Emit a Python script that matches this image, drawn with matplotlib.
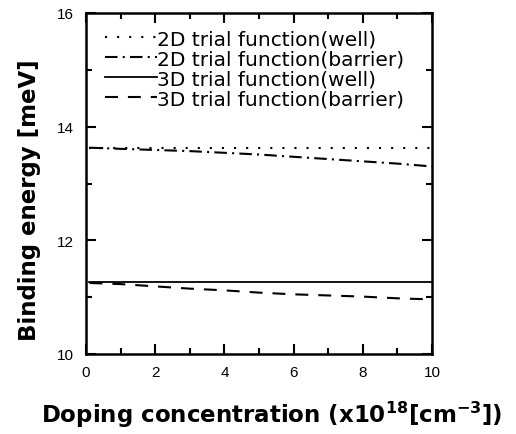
import matplotlib
matplotlib.use("Agg")
import matplotlib.pyplot as plt
from matplotlib.ticker import MultipleLocator

plt.rcParams["font.family"] = ["DejaVu Sans"]
plt.rcParams["mathtext.default"] = "regular"

# doping concentration (x10^18 cm^-3)
doping = [0.1, 1, 2, 3, 4, 5, 6, 7, 8, 9, 10]

# binding energies in meV
well_2d = [13.63, 13.63, 13.63, 13.63, 13.63, 13.63, 13.63, 13.63, 13.63, 13.63, 13.63]
barrier_2d = [13.63, 13.61, 13.59, 13.57, 13.54, 13.51, 13.47, 13.43, 13.39, 13.35, 13.30]
well_3d = [11.26, 11.26, 11.26, 11.26, 11.26, 11.26, 11.26, 11.26, 11.26, 11.26, 11.26]
barrier_3d = [11.25, 11.23, 11.19, 11.15, 11.12, 11.08, 11.05, 11.03, 11.01, 10.98, 10.96]

labels = ["2D trial function(well)", "2D trial function(barrier)",
          "3D trial function(well)", "3D trial function(barrier)"]


def build_plot():
    fig = plt.figure(figsize=(5.16, 4.35), dpi=100)
    ax = fig.add_axes([86 / 516, 80 / 435, 346 / 516, 341 / 435])

    ax.plot(doping, well_2d, color="black", lw=1.5, linestyle=(0, (1, 4.8)), label=labels[0])
    ax.plot(doping, barrier_2d, color="black", lw=1.5, linestyle=(0, (6, 2.5, 1, 2.5)), label=labels[1])
    ax.plot(doping, well_3d, color="black", lw=1.3, linestyle="-", label=labels[2])
    ax.plot(doping, barrier_3d, color="black", lw=1.5, linestyle=(0, (6.2, 4.8)), label=labels[3])

    ax.set_xlim(0, 10)
    ax.set_ylim(10, 16)
    ax.xaxis.set_major_locator(MultipleLocator(2))
    ax.xaxis.set_minor_locator(MultipleLocator(1))
    ax.yaxis.set_major_locator(MultipleLocator(2))
    ax.yaxis.set_minor_locator(MultipleLocator(1))
    ax.tick_params(which="both", direction="in", top=True, right=True, width=1.5)
    ax.tick_params(which="major", length=7)
    ax.tick_params(which="minor", length=4.5)
    ax.tick_params(axis="x", pad=8)
    ax.tick_params(axis="y", pad=9)
    for lab in ax.get_xticklabels() + ax.get_yticklabels():
        lab.set_fontfamily("Liberation Sans")
        lab.set_fontsize(11)
    for sp in ax.spines.values():
        sp.set_linewidth(1.8)

    ax.set_ylabel("Binding energy [meV]", fontsize=16.5, fontweight="bold")
    ax.yaxis.set_label_coords(-0.13, 0.455)
    ax.set_xlabel("Doping concentration (x10$^{18}$[cm$^{-3}$])", fontsize=16.5, fontweight="bold")
    ax.xaxis.set_label_coords(0.538, -0.132)

    ax.legend(loc="upper left", frameon=False, fontsize=14.5, handlelength=2.6, handletextpad=0.0,
              labelspacing=0.05, borderpad=0.0, borderaxespad=0.0, bbox_to_anchor=(0.055, 0.952))

    fig.savefig("out.png", dpi=100)


if __name__ == "__main__":
    build_plot()
